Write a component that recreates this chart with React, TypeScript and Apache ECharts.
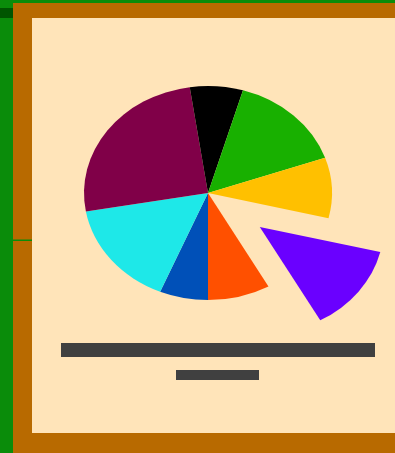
import React, { useEffect, useRef } from "react";
import * as echarts from "echarts";

const categories = ["Blue", "Cyan", "Maroon", "Black", "Green", "Yellow", "Violet", "Orange"];
const values = [6.3, 15.9, 25.4, 6.9, 15.1, 9.1, 13.1, 8.1];
const sliceColors = ["#0050b8", "#1ee8e8", "#800048", "#000000", "#18b000", "#ffc000", "#6a00ff", "#ff5000"];
const explodedIndex = 6;

export default function App() {
  const ref = useRef<HTMLDivElement>(null);
  useEffect(() => {
    const chart = echarts.init(ref.current!, null, { renderer: "svg" });
    const total = values.reduce((a, b) => a + b, 0);
    const cx = 208, cy = 193, r = 124, sy = 107 / 124;
    const startDeg = 90;
    const renderItem = (params: any, api: any) => {
      const i = params.dataIndex;
      let before = 0;
      for (let k = 0; k < i; k++) before += values[k];
      const v = api.value(0);
      const a0 = ((startDeg + (before / total) * 360) * Math.PI) / 180;
      const a1 = ((startDeg + ((before + v) / total) * 360) * Math.PI) / 180;
      const mid = (a0 + a1) / 2;
      const off = i === explodedIndex ? 65 : 0;
      return {
        type: "sector",
        x: cx,
        y: cy,
        scaleY: sy,
        shape: {
          cx: Math.cos(mid) * off,
          cy: Math.sin(mid) * off,
          r0: 0,
          r,
          startAngle: a0,
          endAngle: a1,
          clockwise: true,
        },
        style: { fill: sliceColors[i], stroke: "none" },
      };
    };
    chart.setOption({
      animation: false,
      backgroundColor: "#0a8c0a",
      graphic: [
        { type: "rect", z: 0, shape: { x: 0, y: 8, width: 13, height: 10 }, style: { fill: "#005500" } },
        { type: "rect", z: 0, shape: { x: 13, y: 3, width: 382, height: 450 }, style: { fill: "#b86a00" } },
        { type: "rect", z: 0, shape: { x: 13, y: 239.5, width: 19, height: 1.5 }, style: { fill: "#0a8c0a" } },
        { type: "rect", z: 0, shape: { x: 32, y: 18, width: 363, height: 415 }, style: { fill: "#ffe4b9" } },
        { type: "rect", z: 0, shape: { x: 61, y: 343, width: 314, height: 14 }, style: { fill: "#404040" } },
        { type: "rect", z: 0, shape: { x: 176, y: 370, width: 83, height: 10 }, style: { fill: "#404040" } },
      ],
      series: [
        {
          type: "custom",
          coordinateSystem: "none",
          z: 10,
          renderItem,
          data: values.map((v, i) => ({ name: categories[i], value: [v] })),
        },
      ],
    });
    return () => chart.dispose();
  }, []);
  return <div ref={ref} style={{ position: "absolute", left: 0, top: 0, width: 395, height: 453 }} />;
}
